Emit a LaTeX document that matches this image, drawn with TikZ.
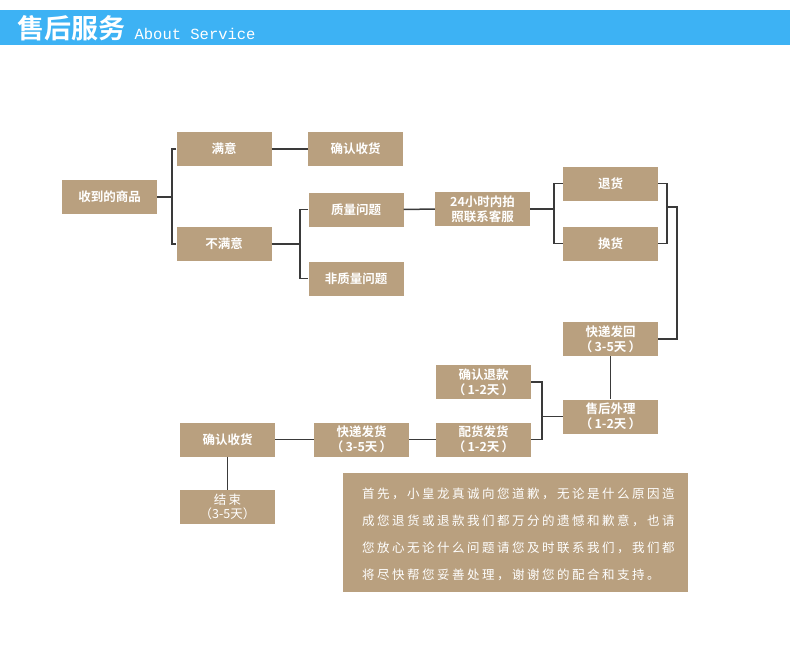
\documentclass[tikz,border=0pt]{standalone}
\usepackage{fontspec}
\usepackage{tikz}
\usetikzlibrary{positioning}
\newfontfamily\cjk{Noto Sans CJK SC}[BoldFont={Noto Sans CJK SC Bold}]
\newfontfamily\cjknote{Noto Sans CJK SC}[LetterSpace=20]
\newfontfamily\titlemono{Liberation Mono}
\definecolor{bar}{HTML}{3DB2F4}
\definecolor{boxtan}{HTML}{B9A07F}
\definecolor{wire}{HTML}{3A3A3A}

\begin{document}
\begin{tikzpicture}[
  x=1pt,y=-1pt,
  font=\cjk\bfseries\fontsize{12.5}{15}\selectfont,
  box/.style={fill=boxtan,text=white,minimum width=95pt,minimum height=34pt,
              inner sep=0pt,align=center},
  link/.style={draw=wire,line width=1.5pt},
]
\useasboundingbox (0,0) rectangle (790,669);

% header
\fill[bar] (0,10) rectangle (790,45);
\node[anchor=west,inner sep=0pt,text=white,font=\cjk\bfseries\fontsize{27}{27}\selectfont]
  (title) at (17,28) {售后服务};
\node[anchor=base west,inner sep=0pt,text=white,font=\titlemono\fontsize{15.5}{15.5}\selectfont]
  (sub) at ([xshift=9pt,yshift=-1pt]title.base east) {About Service};

% first rows
\node[box] (recv) at (109.5,197) {收到的商品};
\node[box] (sat) at (224,149) {满意};
\node[box] (unsat) at (224,244) {不满意};
\node[box] (okay) at (355.5,149) {确认收货};
\node[box] (qual) at (356,209.5) {质量问题};
\node[box] (nonqual) at (356,278.5) {非质量问题};
\node[box] (contact) at (482.5,209) {24小时内拍\\照联系客服};
\node[box] (refgoods) at (610.5,183.5) {退货};
\node[box] (swap) at (610.5,243.5) {换货};
\node[box] (sendback) at (610.5,339) {快递发回\\（\,3-5天\,）};

% return path
\node[box] (handle) at (610.5,416.5) {售后外理\\（\,1-2天\,）};
\node[box] (refund) at (483.5,382) {确认退款\\（\,1-2天\,）};
\node[box] (pack) at (483.5,439.5) {配货发货\\（\,1-2天\,）};
\node[box] (ship) at (361.5,439.5) {快递发货\\（\,3-5天\,）};
\node[box] (okay2) at (227.5,439.5) {确认收货};
\node[box,font=\cjk\fontsize{12.5}{14}\selectfont] (done) at (227.5,507) {结\,束\\（3-5天）};

% note
\node[fill=boxtan,minimum width=345pt,minimum height=119pt,inner sep=0pt]
  (notebox) at (515.5,532.5) {};
\node[anchor=north west,inner sep=0pt,text=white,align=left,
      font=\cjknote\fontsize{12.5}{27}\selectfont] (note) at (362,488)
  {首先，小皇龙真诚向您道歉，无论是什么原因造\\
   成您退货或退款我们都万分的遗憾和歉意，也请\\
   您放心无论什么问题请您及时联系我们，我们都\\
   将尽快帮您妥善处理，谢谢您的配合和支持。};

\coordinate (b1) at (172,197);
\coordinate (b2) at (300,244);
\coordinate (b3) at (554,209);
\coordinate (b4) at (667,207);
\coordinate (b5) at (677,207);
\coordinate (b6) at (542,416.5);

\draw[link] (recv) -- (b1);
\draw[link] (sat.west) -| (b1) |- (unsat.west);
\draw[link] (sat) -- (okay);
\draw[link] (unsat) -- (b2);
\draw[link] (qual.west) -| (b2) |- (nonqual.west);
\draw[link] (qual) -- (contact);
\draw[link] (contact) -- (b3);
\draw[link] (refgoods.west) -| (b3) |- (swap.west);
\draw[link] (refgoods.east) -| (b4) |- (swap.east);
\draw[link] (b4) -- (b5) |- (sendback.east);
\draw[link] (sendback) -- (handle);
\draw[link] (handle) -- (b6);
\draw[link] (refund.east) -| (b6) |- (pack.east);
\draw[link] (pack) -- (ship);
\draw[link] (ship) -- (okay2);
\draw[link] (okay2) -- (done);
\end{tikzpicture}
\end{document}
